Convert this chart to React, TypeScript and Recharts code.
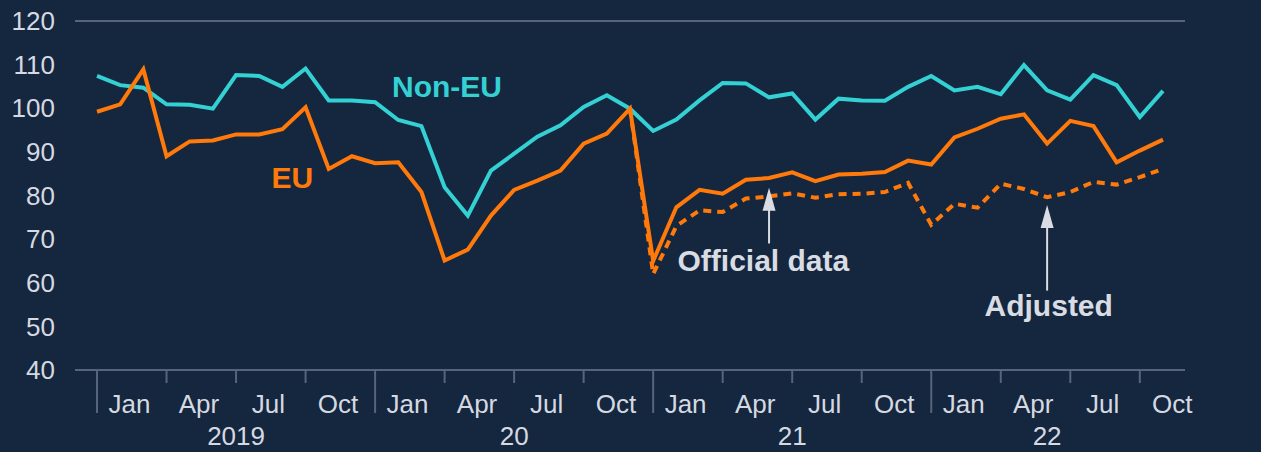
import { LineChart, Line, XAxis, YAxis, CartesianGrid, ReferenceLine, ReferenceDot } from 'recharts';

// monthly, Jan 2019 .. Nov 2022
const MONTHS = [
  'Jan 19', 'Feb 19', 'Mar 19', 'Apr 19', 'May 19', 'Jun 19', 'Jul 19', 'Aug 19', 'Sep 19', 'Oct 19', 'Nov 19', 'Dec 19',
  'Jan 20', 'Feb 20', 'Mar 20', 'Apr 20', 'May 20', 'Jun 20', 'Jul 20', 'Aug 20', 'Sep 20', 'Oct 20', 'Nov 20', 'Dec 20',
  'Jan 21', 'Feb 21', 'Mar 21', 'Apr 21', 'May 21', 'Jun 21', 'Jul 21', 'Aug 21', 'Sep 21', 'Oct 21', 'Nov 21', 'Dec 21',
  'Jan 22', 'Feb 22', 'Mar 22', 'Apr 22', 'May 22', 'Jun 22', 'Jul 22', 'Aug 22', 'Sep 22', 'Oct 22', 'Nov 22',
];

const NON_EU = [
  107.4, 105.3, 104.7, 100.9, 100.8, 99.9, 107.6, 107.4, 104.9, 109.1, 101.8, 101.8,
  101.4, 97.3, 95.9, 81.9, 75.4, 85.7, 89.6, 93.5, 96.1, 100.3, 103.0, 99.9,
  94.8, 97.4, 101.8, 105.8, 105.7, 102.5, 103.4, 97.4, 102.2, 101.8, 101.7, 104.9,
  107.4, 104.1, 104.9, 103.2, 109.9, 104.1, 102.0, 107.6, 105.3, 98.0, 104.0,
];

const EU = [
  99.2, 100.9, 108.9, 89.0, 92.4, 92.6, 94.0, 94.0, 95.2, 100.2, 86.1, 89.0,
  87.4, 87.6, 80.8, 65.1, 67.6, 75.4, 81.3, 83.4, 85.7, 91.9, 94.2, 99.9,
  65.0, 77.3, 81.3, 80.4, 83.6, 84.0, 85.3, 83.3, 84.8, 85.0, 85.4, 88.0,
  87.1, 93.3, 95.3, 97.6, 98.6, 91.9, 97.1, 95.9, 87.6, 90.3, 92.8,
];

const EU_ADJUSTED = [
  null, null, null, null, null, null, null, null, null, null, null, null,
  null, null, null, null, null, null, null, null, null, null, null, 99.9,
  62.0, 73.0, 76.6, 76.2, 79.3, 79.8, 80.5, 79.5, 80.3, 80.4, 80.8, 82.9,
  73.3, 78.1, 77.2, 82.7, 81.5, 79.6, 80.8, 83.1, 82.5, 84.2, 86.1,
];

const Y_TICKS = [40, 50, 60, 70, 80, 90, 100, 110, 120];
const QUARTER_LABELS = ['Jan', 'Apr', 'Jul', 'Oct'];
const YEAR_LABELS = ['2019', '20', '21', '22'];
const YEAR_LABEL_POS = [6, 18, 30, 41];

const BG = '#15263f';
const GRID = '#56657c';
const TEXT = '#d5d9e0';
const CYAN = '#33d1d3';
const ORANGE = '#ff7a0a';
const FONT = '"Liberation Sans", Arial, sans-serif';

const data = MONTHS.map((m, k) => ({
  k,
  month: m,
  nonEU: NON_EU[k],
  eu: EU[k],
  euAdj: EU_ADJUSTED[k],
}));

// x-axis: quarter tick marks, quarter labels and year labels share one axis
type TickInfo = { mark?: boolean; long?: boolean; month?: string; year?: string };
const tickInfo = new Map<string, TickInfo>();
const keyOf = (v: number) => v.toFixed(2);
const add = (v: number, info: TickInfo) => {
  const prev = tickInfo.get(keyOf(v)) || {};
  tickInfo.set(keyOf(v), { ...prev, ...info });
};
for (let q = 0; q < 16; q++) {
  add(q * 3, { mark: true, long: q % 4 === 0 });
  add(q * 3 + 1.4, { month: QUARTER_LABELS[q % 4] });
}
YEAR_LABEL_POS.forEach((p, i) => add(p, { year: YEAR_LABELS[i] }));
const X_TICKS = Array.from(tickInfo.keys()).map(Number).sort((a, b) => a - b);

const XTick = (props: any) => {
  const { x, y, payload } = props;
  const info = tickInfo.get(keyOf(payload.value)) || {};
  return (
    <g>
      {info.mark && (
        <line x1={x} x2={x} y1={y} y2={y + (info.long ? 43 : 13)} stroke={GRID} strokeWidth={2} />
      )}
      {info.month && (
        <text x={x} y={y + 43} textAnchor="middle" fill={TEXT} fontSize={26} fontFamily={FONT}>
          {info.month}
        </text>
      )}
      {info.year && (
        <text x={x} y={y + 75} textAnchor="middle" fill={TEXT} fontSize={26} fontFamily={FONT}>
          {info.year}
        </text>
      )}
    </g>
  );
};

const Arrowhead = (props: any) => {
  const { cx, cy } = props;
  return <polygon points={`${cx},${cy} ${cx - 6.5},${cy + 23} ${cx + 6.5},${cy + 23}`} fill="#d9dce3" />;
};

const makeLabel = (text: string, color: string) => (props: any) => (
  <text x={props.cx} y={props.cy} fill={color} fontSize={30} fontWeight="bold" fontFamily={FONT}>
    {text}
  </text>
);

export default function App() {
  return (
    <div style={{ position: 'absolute', left: 0, top: 0, width: 1261, height: 452, background: BG }}>
      <LineChart width={1261} height={452} data={data} margin={{ top: 21, right: 0, bottom: 0, left: 0 }}>
        <CartesianGrid vertical={false} stroke={GRID} strokeWidth={2} />
        <XAxis
          dataKey="k"
          type="number"
          domain={[-0.95, 46.95]}
          ticks={X_TICKS}
          interval={0}
          height={82}
          tickSize={0}
          tickMargin={0}
          tickLine={false}
          axisLine={{ stroke: GRID, strokeWidth: 2 }}
          tick={<XTick />}
        />
        <YAxis
          yAxisId="left"
          orientation="left"
          domain={[40, 120]}
          ticks={Y_TICKS}
          width={75}
          axisLine={false}
          tickLine={false}
          tickSize={0}
          tickMargin={20}
          tick={{ fill: TEXT, fontSize: 26, fontFamily: FONT }}
        />
        <YAxis
          yAxisId="right"
          orientation="right"
          domain={[40, 120]}
          ticks={Y_TICKS}
          width={76}
          axisLine={false}
          tickLine={false}
          tickSize={0}
          tickMargin={20}
          tick={{ fill: TEXT, fontSize: 26, fontFamily: FONT, textAnchor: 'start' }}
        />
        <Line yAxisId="left" dataKey="nonEU" stroke={CYAN} strokeWidth={4} dot={false} isAnimationActive={false} />
        <Line
          yAxisId="left"
          dataKey="euAdj"
          stroke={ORANGE}
          strokeWidth={4}
          strokeDasharray="8 6"
          dot={false}
          connectNulls={false}
          isAnimationActive={false}
        />
        <Line yAxisId="left" dataKey="eu" stroke={ORANGE} strokeWidth={4} dot={false} isAnimationActive={false} />

        <ReferenceLine yAxisId="left" segment={[{ x: 29, y: 69 }, { x: 29, y: 78 }]} stroke="#d9dce3" strokeWidth={2} />
        <ReferenceDot yAxisId="left" x={29} y={81.8} r={0} shape={Arrowhead} />
        <ReferenceLine yAxisId="left" segment={[{ x: 41, y: 58.2 }, { x: 41, y: 74 }]} stroke="#d9dce3" strokeWidth={2} />
        <ReferenceDot yAxisId="left" x={41} y={77.8} r={0} shape={Arrowhead} />

        <ReferenceDot yAxisId="left" x={12.73} y={102.5} r={0} shape={makeLabel('Non-EU', CYAN)} />
        <ReferenceDot yAxisId="left" x={7.53} y={81.8} r={0} shape={makeLabel('EU', ORANGE)} />
        <ReferenceDot yAxisId="left" x={25.05} y={62.8} r={0} shape={makeLabel('Official data', '#d9dce3')} />
        <ReferenceDot yAxisId="left" x={38.3} y={52.4} r={0} shape={makeLabel('Adjusted', '#d9dce3')} />
      </LineChart>
    </div>
  );
}
